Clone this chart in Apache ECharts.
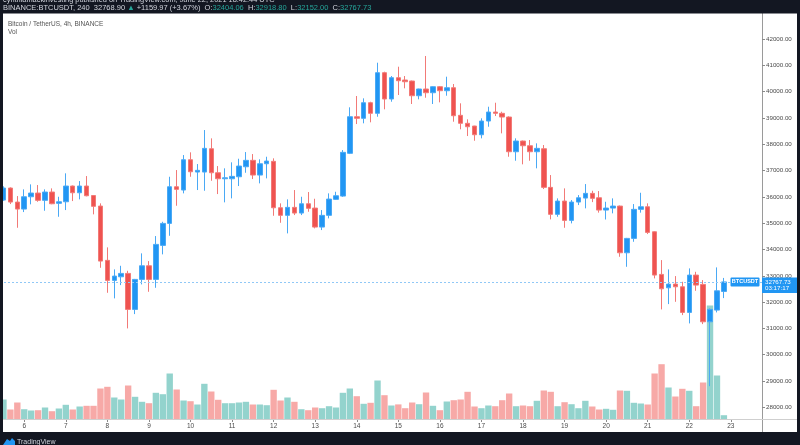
<!DOCTYPE html>
<html><head><meta charset="utf-8">
<script src="https://cdn.jsdelivr.net/npm/echarts@6/dist/echarts.min.js"></script>
<style>html,body{margin:0;padding:0;background:#131722;}#c{width:800px;height:445px;}</style>
</head><body><div id="c"></div><script>
// ---- time categories (4h candles, June 5 12:00 .. June 23 16:00; last 5 are empty right margin) ----
const categories = [];
for (let d = 5; d <= 23; d++) {
  for (const h of [0, 4, 8, 12, 16, 20]) {
    if (d === 5 && h < 12) continue;
    if (d === 23 && h > 16) continue;
    categories.push(d + ' ' + String(h).padStart(2, '0') + ':00');
  }
}
// ---- OHLC values ----
const openV = [35878, 36335, 35802, 35536, 36004, 36145, 35867, 36183, 35753, 35814,
36411, 36156, 36411, 36050, 35650, 33586, 32825, 32962, 33091, 31722,
32863, 33380, 32863, 34156, 34992, 36384, 36259, 37411, 36943, 36943,
37829, 36916, 36688, 36688, 36764, 37144, 37388, 36829, 37259, 37350,
35586, 35297, 35601, 35384, 35738, 35574, 34852, 35297, 35905, 36030,
37654, 39046, 38985, 39578, 39175, 40719, 39719, 40529, 40441, 40403,
39844, 40099, 39958, 40186, 40034, 40148, 39099, 38795, 38692, 38361,
38882, 39224, 39175, 39034, 37715, 38122, 37943, 37715, 37829, 36361,
35335, 35840, 35106, 35802, 35954, 36133, 35966, 35498, 35574, 35650,
33875, 34422, 35525, 35624, 34673, 33053, 32544, 32684, 32582, 31608,
33027, 32673, 31251, 31696, 32404.06];
const highV = [36400, 36360, 36030, 36285, 36475, 36449, 36285, 36323, 36004, 36894,
36430, 36601, 36791, 36070, 35753, 34080, 33243, 33380, 33190, 32880,
33852, 33559, 34510, 35053, 36764, 37019, 37589, 37692, 37247, 38540,
38224, 37171, 37084, 37312, 37449, 37703, 37627, 37426, 37525, 37464,
35753, 35905, 36259, 36004, 36183, 35928, 35498, 36133, 36194, 37779,
39403, 39833, 39745, 39616, 41099, 40757, 40593, 40947, 40593, 40420,
40110, 41354, 40200, 40213, 40567, 40289, 39555, 38947, 38700, 38985,
39426, 39578, 39236, 39060, 38224, 38140, 38160, 38034, 37970, 36829,
35943, 36323, 35878, 36068, 36487, 36232, 36220, 35814, 35943, 35670,
34440, 35726, 36156, 35753, 34690, 33597, 33243, 32989, 32772, 33281,
33152, 32836, 31760, 33319, 32918.80];
const lowV = [35850, 35726, 34825, 35422, 35715, 35814, 35472, 35720, 35243, 35498,
35840, 35905, 36020, 35335, 33304, 32354, 32141, 32646, 31000, 31544,
32673, 32392, 32544, 33814, 34521, 35662, 36133, 36764, 36259, 36232,
36612, 36106, 35791, 35943, 36411, 36916, 36677, 36513, 36703, 35281,
35015, 34612, 35308, 35308, 35434, 34802, 34738, 35182, 35890, 36000,
37627, 38768, 38795, 38833, 39046, 39327, 39616, 39871, 40125, 39529,
39707, 39768, 39529, 39593, 39844, 38856, 38567, 38312, 38133, 38224,
38665, 39072, 38414, 37525, 37373, 37236, 37373, 37084, 36297, 35144,
35243, 34825, 34992, 35688, 35563, 35800, 35400, 35140, 35373, 33723,
33342, 34293, 35400, 34586, 32901, 31722, 31924, 32011, 31506, 31190,
32430, 31163, 28805, 31608, 32152.00];
const closeV = [36335, 35802, 35536, 36004, 36145, 35867, 36183, 35738, 35814, 36411,
36156, 36411, 36042, 35639, 33559, 32825, 32989, 33091, 31722, 32863,
33380, 32863, 34194, 34992, 36384, 36285, 37411, 36954, 37008, 37844,
36916, 36688, 36726, 36779, 37171, 37388, 36829, 37259, 37361, 35586,
35297, 35601, 35384, 35738, 35563, 34852, 35297, 35916, 36042, 37692,
39046, 38985, 39578, 39175, 40719, 39719, 40529, 40414, 40376, 39844,
40099, 39958, 40186, 40034, 40148, 39084, 38795, 38665, 38361, 38882,
39224, 39175, 39034, 37715, 38122, 37943, 37715, 37844, 36361, 35335,
35840, 35106, 35802, 35966, 36133, 35943, 35498, 35574, 35650, 33875,
34422, 35525, 35624, 34650, 33027, 32506, 32684, 32582, 31608, 33027,
32646, 31251, 31722, 32430, 32767.73];
const volumeV = [9750, 4750, 8250, 4900, 4250, 4400, 5750, 3900, 5250, 7100,
4750, 6250, 6600, 6600, 15250, 16100, 10750, 9750, 16750, 11100,
8600, 7900, 13100, 12400, 22750, 14750, 9250, 8900, 7250, 17600,
13750, 9600, 7900, 7900, 8250, 8600, 7250, 7250, 6900, 14600,
9250, 10750, 8600, 4900, 4400, 5750, 5400, 6400, 5750, 13100,
15250, 11400, 7600, 8100, 19250, 11900, 6750, 7300, 5400, 8250,
7400, 13250, 6600, 4400, 8750, 9400, 9750, 13600, 6250, 5400,
6750, 6400, 9400, 12750, 6400, 6750, 6400, 9100, 14250, 13600,
6400, 8400, 7400, 5400, 9100, 6250, 4750, 5100, 4600, 14250,
14100, 8100, 7750, 7250, 22750, 27400, 15750, 11250, 15100, 14100,
6400, 18250, 56750, 21750, 1900];
const priceTicks = [28000, 29000, 30000, 31000, 32000, 33000, 34000, 35000, 36000, 37000, 38000, 39000, 40000, 41000, 42000];
const headerLine1 = 'cynthiamackinvesting published on TradingView.com, June 22, 2021 18:42:44 UTC';
const symbolTitle = 'Bitcoin / TetherUS, 4h, BINANCE';
const lastPrice = 32767.73;
const countdown = '03:17:17';

// ---- build series data ----
const UP = '#2196f3', DOWN = '#ef5350';
const candleData = openV.map((o, i) => [o, closeV[i], lowV[i], highV[i]]);
const volData = volumeV.map((v, i) => ({
  value: v,
  itemStyle: { color: closeV[i] >= openV[i] ? '#93d3cd' : '#f7a9a7' }
}));

const FONT = '"Liberation Sans", Arial, sans-serif';
const isDay = (idx, val) => /00:00$/.test(val);

const chart = echarts.init(document.getElementById('c'), null, { renderer: 'canvas' });
const option = {
  animation: false,
  backgroundColor: '#ffffff',
  textStyle: { fontFamily: FONT },
  grid: [
    { left: 0, top: 12.69, width: 762, height: 420.96, containLabel: false },
    { left: 0, top: 279, width: 762, height: 140, containLabel: false }
  ],
  xAxis: [
    { type: 'category', gridIndex: 0, data: categories, show: false },
    { type: 'category', gridIndex: 1, data: categories,
      axisLine: { show: false },
      axisTick: { show: true, alignWithLabel: true, interval: isDay, length: 3, lineStyle: { color: '#8a8a8a' } },
      axisLabel: { interval: isDay, formatter: v => v.split(' ')[0], fontSize: 6.5, color: '#4a4a4a', margin: 4, fontFamily: FONT },
      splitLine: { show: false } }
  ],
  yAxis: [
    { type: 'value', gridIndex: 0, position: 'right', min: 27000, max: 43000, interval: 1000,
      axisLine: { show: true, lineStyle: { color: '#9a9a9a' } },
      axisTick: { show: true, length: 3, lineStyle: { color: '#8a8a8a' } },
      axisLabel: { showMinLabel: false, showMaxLabel: false, formatter: v => v.toFixed(2), fontSize: 6.2, color: '#4a4a4a', margin: 4, fontFamily: FONT },
      splitLine: { show: false } },
    { type: 'value', gridIndex: 1, min: 0, max: 70000, show: false }
  ],
  series: [
    { type: 'bar', name: 'Vol', xAxisIndex: 1, yAxisIndex: 1, data: volData, barWidth: '92%', z: 1, silent: true },
    { type: 'candlestick', name: 'BTCUSDT', xAxisIndex: 0, yAxisIndex: 0, data: candleData, barWidth: 5, z: 3,
      itemStyle: { color: UP, color0: DOWN, borderColor: '#4aa9f5', borderColor0: '#f27a77', borderWidth: 1 },
      markLine: { silent: true, symbol: ['none', 'none'], label: { show: false },
        lineStyle: { color: '#90c8f6', type: [2, 2], width: 1 },
        data: [{ yAxis: lastPrice }] } }
  ]
};
chart.setOption(option);

const yLast = chart.convertToPixel({ yAxisIndex: 0 }, lastPrice);
const DARK = '#131722';
chart.setOption({
  graphic: [
    { type: 'line', shape: { x1: 3, y1: 419.5, x2: 797, y2: 419.5 }, style: { stroke: '#cfcfcf', lineWidth: 1 }, z: 50, silent: true },
    { type: 'rect', shape: { x: 0, y: 0, width: 800, height: 13.5 }, style: { fill: DARK }, z: 100, silent: true },
    { type: 'rect', shape: { x: 0, y: 432, width: 800, height: 13 }, style: { fill: DARK }, z: 100, silent: true },
    { type: 'rect', shape: { x: 0, y: 0, width: 3, height: 445 }, style: { fill: DARK }, z: 100, silent: true },
    { type: 'rect', shape: { x: 797, y: 0, width: 3, height: 445 }, style: { fill: DARK }, z: 100, silent: true },
    { type: 'text', x: 3, y: 3.5, z: 101, silent: true,
      style: { text: headerLine1, fill: '#d1d4dc', font: '7.4px ' + FONT, verticalAlign: 'bottom' } },
    { type: 'text', x: 3, y: 7.8, z: 101, silent: true,
      style: { text: '{w|BINANCE:BTCUSDT, 240  32768.90 }{g|▲}{w| +1159.97 (+3.67%)  O:}{g|32404.06}{w|  H:}{g|32918.80}{w|  L:}{g|32152.00}{w|  C:}{g|32767.73}',
        verticalAlign: 'middle',
        rich: { w: { fill: '#d1d4dc', font: '7.5px ' + FONT }, g: { fill: '#26a69a', font: '7.5px ' + FONT } } } },
    { type: 'text', x: 8, y: 24.5, z: 101, silent: true,
      style: { text: symbolTitle, fill: '#555555', font: '6.5px ' + FONT, verticalAlign: 'middle' } },
    { type: 'text', x: 8, y: 32.5, z: 101, silent: true,
      style: { text: 'Vol', fill: '#555555', font: '6.5px ' + FONT, verticalAlign: 'middle' } },
    // last price tags
    { type: 'rect', shape: { x: 730.5, y: yLast - 4.5, width: 29, height: 9, r: 1 }, style: { fill: UP }, z: 101, silent: true },
    { type: 'text', x: 745, y: yLast, z: 102, silent: true,
      style: { text: 'BTCUSDT', fill: '#ffffff', font: 'bold 5.5px ' + FONT, align: 'center', verticalAlign: 'middle' } },
    { type: 'rect', shape: { x: 762, y: yLast - 4.5, width: 35, height: 15.5 }, style: { fill: UP }, z: 101, silent: true },
    { type: 'text', x: 765, y: yLast, z: 102, silent: true,
      style: { text: lastPrice.toFixed(2), fill: '#ffffff', font: '6.2px ' + FONT, verticalAlign: 'middle' } },
    { type: 'text', x: 765, y: yLast + 6.5, z: 102, silent: true,
      style: { text: countdown, fill: '#ffffff', font: '6.2px ' + FONT, verticalAlign: 'middle' } },
    // TradingView logo
    { type: 'polygon', shape: { points: [[3, 445], [7, 439], [10, 441], [12, 438], [15, 441], [15, 445]] }, style: { fill: '#2196f3' }, z: 101, silent: true },
    { type: 'text', x: 17, y: 442, z: 101, silent: true,
      style: { text: 'TradingView', fill: '#d1d4dc', font: '7px ' + FONT, verticalAlign: 'middle' } }
  ]
});
</script></body></html>
